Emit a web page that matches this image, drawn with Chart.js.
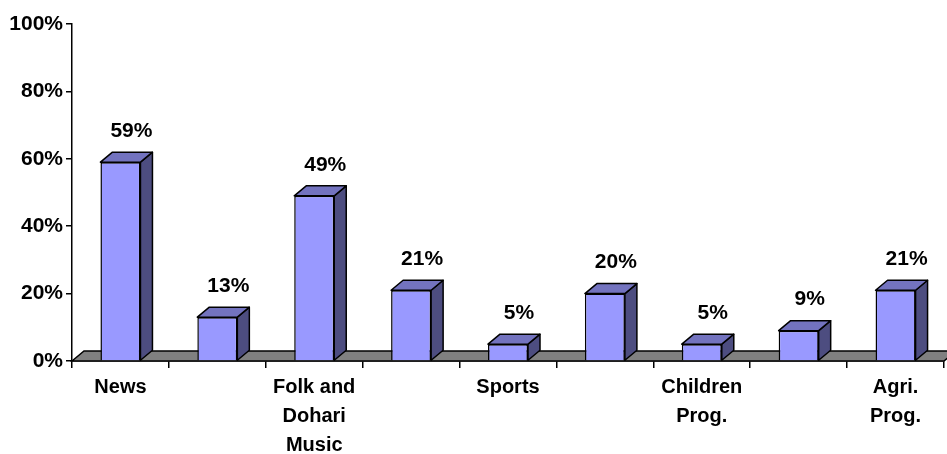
<!DOCTYPE html>
<html>
<head>
<meta charset="utf-8">
<script src="https://cdn.jsdelivr.net/npm/chart.js@4/dist/chart.umd.min.js"></script>
<style>
  html, body { margin: 0; padding: 0; background: #fff; }
  #wrap { width: 947px; height: 454px; }
</style>
</head>
<body>
<div id="wrap"><canvas id="programChart" width="947" height="454"></canvas></div>
<script>
// categories (only every other one is labelled on the axis)
const categories = [
  'News',
  '',
  ['Folk and', 'Dohari', 'Music'],
  '',
  'Sports',
  '',
  ['Children', 'Prog.'],
  '',
  ['Agri.', 'Prog.']
];
const shares = [59, 13, 49, 21, 5, 20, 5, 9, 21];
const yTicks = [0, 20, 40, 60, 80, 100];

const DX = 12, DY = 10; // 3d depth offset

// grey floor drawn under the bars
const floorPlugin = {
  id: 'floor',
  beforeDatasetsDraw(chart) {
    const { ctx, chartArea } = chart;
    const y0 = chart.scales.y.getPixelForValue(0);
    ctx.save();
    ctx.beginPath();
    ctx.moveTo(chartArea.left, y0);
    ctx.lineTo(chartArea.left + DX, y0 - DY);
    ctx.lineTo(chartArea.right + DX, y0 - DY);
    ctx.lineTo(chartArea.right, y0);
    ctx.closePath();
    ctx.fillStyle = '#808080';
    ctx.fill();
    ctx.lineWidth = 1.5;
    ctx.strokeStyle = '#000';
    ctx.stroke();
    ctx.restore();
  }
};

// side + top faces and value labels
const boxPlugin = {
  id: 'box3d',
  afterDatasetsDraw(chart) {
    const { ctx } = chart;
    const meta = chart.getDatasetMeta(0);
    ctx.save();
    ctx.lineWidth = 1.5;
    ctx.strokeStyle = '#000';
    ctx.lineJoin = 'round';
    meta.data.forEach((bar, i) => {
      const half = bar.width / 2;
      const l = bar.x - half, r = bar.x + half;
      const t = bar.y, b = bar.base;
      // side
      ctx.beginPath();
      ctx.moveTo(r, b);
      ctx.lineTo(r + DX, b - DY);
      ctx.lineTo(r + DX, t - DY);
      ctx.lineTo(r, t);
      ctx.closePath();
      ctx.fillStyle = '#4d4d80';
      ctx.fill();
      ctx.stroke();
      // top
      ctx.beginPath();
      ctx.moveTo(l, t);
      ctx.lineTo(l + DX, t - DY);
      ctx.lineTo(r + DX, t - DY);
      ctx.lineTo(r, t);
      ctx.closePath();
      ctx.fillStyle = '#7373bf';
      ctx.fill();
      ctx.stroke();
      // label
      ctx.fillStyle = '#000';
      ctx.font = 'bold 21px "Liberation Sans", Arial, sans-serif';
      ctx.textAlign = 'center';
      ctx.textBaseline = 'middle';
      ctx.fillText(shares[i] + '%', bar.x + 11, t - DY - 21);
    });
    ctx.restore();
  }
};

new Chart(document.getElementById('programChart').getContext('2d'), {
  type: 'bar',
  data: {
    labels: categories,
    datasets: [{
      data: shares,
      backgroundColor: '#9999ff',
      borderColor: '#000',
      borderWidth: 1.5,
      categoryPercentage: 1,
      barPercentage: 0.413
    }]
  },
  options: {
    responsive: false,
    animation: false,
    layout: { padding: { top: 24, right: 3, left: 0, bottom: 0 } },
    plugins: { legend: { display: false }, tooltip: { enabled: false } },
    scales: {
      x: {
        grid: { drawOnChartArea: false, tickLength: 7, color: '#000', lineWidth: 1.5 },
        border: { color: '#000', width: 1.5 },
        ticks: {
          autoSkip: false,
          maxRotation: 0,
          padding: 5,
          color: '#000',
          font: { family: '"Liberation Sans", Arial, sans-serif', size: 20, weight: 'bold', lineHeight: 1.45 }
        },
        afterFit(scale) { scale.height = 93; }
      },
      y: {
        min: 0,
        max: 100,
        afterBuildTicks(scale) { scale.ticks = yTicks.map(v => ({ value: v })); },
        grid: { drawOnChartArea: false, tickLength: 6, color: '#000', lineWidth: 1.5 },
        border: { color: '#000', width: 1.5 },
        ticks: {
          padding: 3,
          color: '#000',
          font: { family: '"Liberation Sans", Arial, sans-serif', size: 21, weight: 'bold' },
          callback: v => v + '%'
        },
        afterFit(scale) { scale.width = 72; }
      }
    }
  },
  plugins: [floorPlugin, boxPlugin]
});
</script>
</body>
</html>
